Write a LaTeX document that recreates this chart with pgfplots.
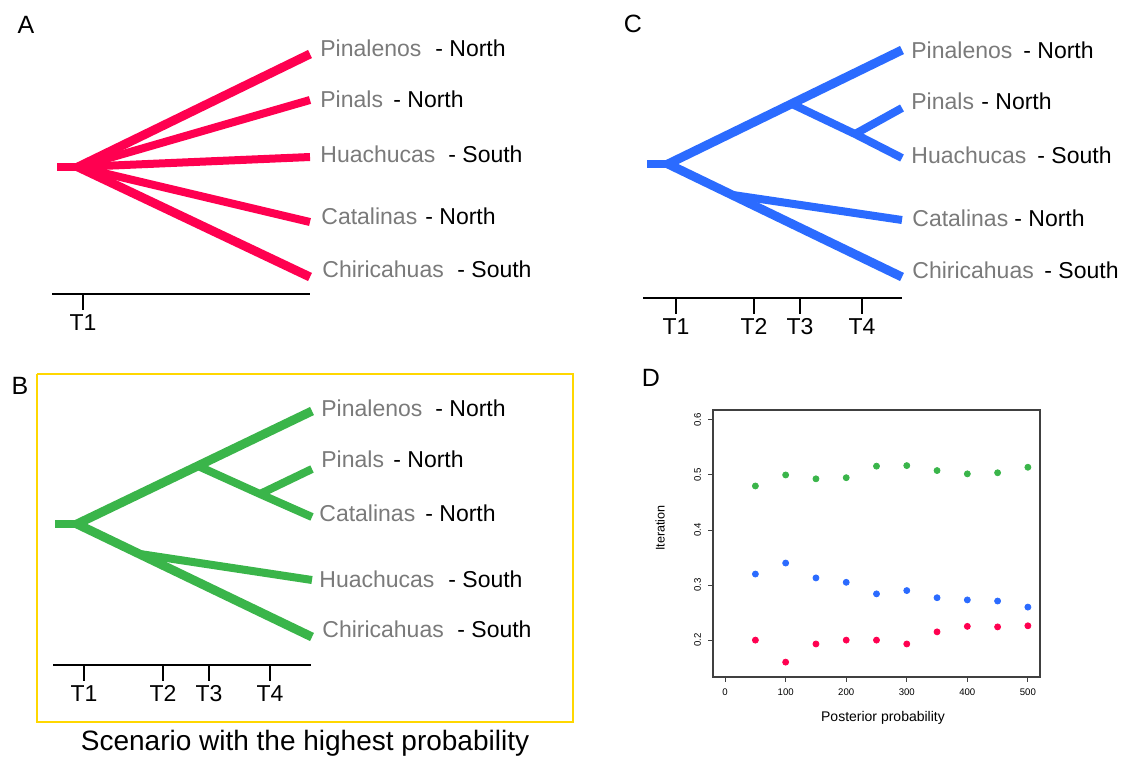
\documentclass[border=0pt]{standalone}
\usepackage{fontspec}
\setmainfont{Liberation Sans}
\usepackage{pgfplots}
\pgfplotsset{compat=1.18}

\definecolor{treered}{HTML}{FF0050}
\definecolor{treeblue}{HTML}{2B6BFF}
\definecolor{treegreen}{HTML}{3AB54A}
\definecolor{namegray}{HTML}{7A7A7A}
\definecolor{boxyellow}{HTML}{FFD700}

% one picture pixel = 0.5pt
\newcommand{\lab}{\fontsize{11.5}{13}\selectfont}
\newcommand{\panel}{\fontsize{12.5}{14}\selectfont}
\newcommand{\tiplabel}[5]{%
  \node[anchor=base west,inner sep=0pt,text=namegray,font=\lab] at (axis cs:#1,#2) {#3};
  \node[anchor=base west,inner sep=0pt,font=\lab] at (axis cs:#4,#2) {- #5};}
\newcommand{\tlab}[3]{%
  \addplot[black,line width=1pt] coordinates {(#1,#2) (#1,#2+16)};
  \node[anchor=base,font=\fontsize{11.5}{12}\selectfont,inner sep=0pt] at (axis cs:#1,#2+36) {#3};}

\begin{document}
\begin{tikzpicture}
\begin{axis}[
  at={(0,0)}, anchor=north west,
  x=0.5pt, y=0.5pt, y dir=reverse,
  xmin=0, xmax=1125, ymin=0, ymax=758,
  hide axis, clip=false,
  every axis plot/.append style={no markers},
]
\path (axis cs:0,0) (axis cs:1125,758);

% ---- A
\node[font=\panel] at (axis cs:26,25) {A};
\addplot[treered,line width=4pt] coordinates {(57,167) (82,167)};
\addplot[treered,line width=4.5pt] coordinates {(78,167) (310,54)};
\addplot[treered,line width=4pt] coordinates {(78,167) (310,100)};
\addplot[treered,line width=4pt] coordinates {(78,167) (310,157)};
\addplot[treered,line width=4pt] coordinates {(78,167) (310,222)};
\addplot[treered,line width=4.5pt] coordinates {(78,167) (310,277)};
\addplot[black,line width=1pt] coordinates {(52,294) (310,294)};
\tlab{83}{294}{T1}
\tiplabel{320}{56}{Pinalenos}{435}{North}
\tiplabel{320}{107}{Pinals}{393}{North}
\tiplabel{320}{162}{Huachucas}{448}{South}
\tiplabel{321}{224}{Catalinas}{425}{North}
\tiplabel{322}{277}{Chiricahuas}{457}{South}

% ---- C
\node[font=\panel] at (axis cs:633,24) {C};
\addplot[treeblue,line width=4pt] coordinates {(647,164) (670,164)};
\addplot[treeblue,line width=4.5pt] coordinates {(668,164) (902,50)};
\addplot[treeblue,line width=4pt] coordinates {(792,104) (855,134) (902,158)};
\addplot[treeblue,line width=4pt] coordinates {(855,134) (902,108)};
\addplot[treeblue,line width=4.5pt] coordinates {(668,164) (902,277)};
\addplot[treeblue,line width=4pt] coordinates {(733,195) (902,220)};
\addplot[black,line width=1pt] coordinates {(643,298) (902,298)};
\tlab{676}{298}{T1}
\tlab{754}{298}{T2}
\tlab{800}{298}{T3}
\tlab{862}{298}{T4}
\tiplabel{911}{58}{Pinalenos}{1023}{North}
\tiplabel{911}{109}{Pinals}{981}{North}
\tiplabel{911}{163}{Huachucas}{1037}{South}
\tiplabel{912}{226}{Catalinas}{1014}{North}
\tiplabel{912}{278}{Chiricahuas}{1044}{South}

% ---- B
\node[font=\panel] at (axis cs:20,386) {B};
\addplot[boxyellow,line width=1pt] coordinates {(37,374) (573,374) (573,722) (37,722) (37,374)};
\addplot[treegreen,line width=4pt] coordinates {(55,524) (79,524)};
\addplot[treegreen,line width=4.5pt] coordinates {(77,524) (312,411)};
\addplot[treegreen,line width=4pt] coordinates {(198,466) (260,494) (312,517)};
\addplot[treegreen,line width=4pt] coordinates {(260,494) (312,469)};
\addplot[treegreen,line width=4.5pt] coordinates {(77,524) (312,637)};
\addplot[treegreen,line width=4pt] coordinates {(140,554) (312,580)};
\addplot[black,line width=1pt] coordinates {(53,665) (311,665)};
\tlab{84}{665}{T1}
\tlab{163}{665}{T2}
\tlab{209}{665}{T3}
\tlab{270}{665}{T4}
\tiplabel{321}{416}{Pinalenos}{435}{North}
\tiplabel{321}{467}{Pinals}{393}{North}
\tiplabel{319}{521}{Catalinas}{425}{North}
\tiplabel{319}{587}{Huachucas}{448}{South}
\tiplabel{322}{637}{Chiricahuas}{457}{South}
\node[anchor=base,inner sep=0pt,font=\fontsize{14}{16}\selectfont] at (axis cs:305,750) {Scenario with the highest probability};

% ---- D labels
\node[font=\panel] at (axis cs:651,378) {D};
\node[font=\fontsize{7}{8}\selectfont] at (axis cs:883,718) {Posterior probability};
\node[font=\fontsize{6.3}{7}\selectfont,rotate=90] at (axis cs:660,528) {Iteration};
\coordinate (dsw) at (axis cs:713,677);
\end{axis}

\begin{axis}[
  at={(dsw)}, anchor=south west,
  scale only axis, width=163.5pt, height=133.5pt,
  xmin=-20, xmax=520, ymin=0.133, ymax=0.618,
  xtick={0,100,200,300,400,500},
  ytick={0.2,0.3,0.4,0.5,0.6},
  yticklabels={0.2,0.3,0.4,0.5,0.6},
  tick align=outside, tick pos=left,
  major tick length=2.5pt,
  axis line style={black!75,line width=0.6pt},
  tick style={black!75,line width=0.5pt},
  tick label style={font=\fontsize{4.8}{5}\selectfont},
  /pgf/number format/assume math mode=true,
  yticklabel style={rotate=90,anchor=south},
]
\addplot[only marks,mark=*,mark size=1.5pt,treegreen] coordinates {
(50,0.480) (100,0.500) (150,0.493) (200,0.495) (250,0.516)
(300,0.517) (350,0.508) (400,0.502) (450,0.504) (500,0.514)};
\addplot[only marks,mark=*,mark size=1.5pt,treeblue] coordinates {
(50,0.320) (100,0.340) (150,0.313) (200,0.305) (250,0.284)
(300,0.290) (350,0.277) (400,0.273) (450,0.271) (500,0.260)};
\addplot[only marks,mark=*,mark size=1.5pt,treered] coordinates {
(50,0.200) (100,0.160) (150,0.193) (200,0.200) (250,0.200)
(300,0.193) (350,0.215) (400,0.225) (450,0.224) (500,0.226)};
\end{axis}
\end{tikzpicture}
\end{document}
